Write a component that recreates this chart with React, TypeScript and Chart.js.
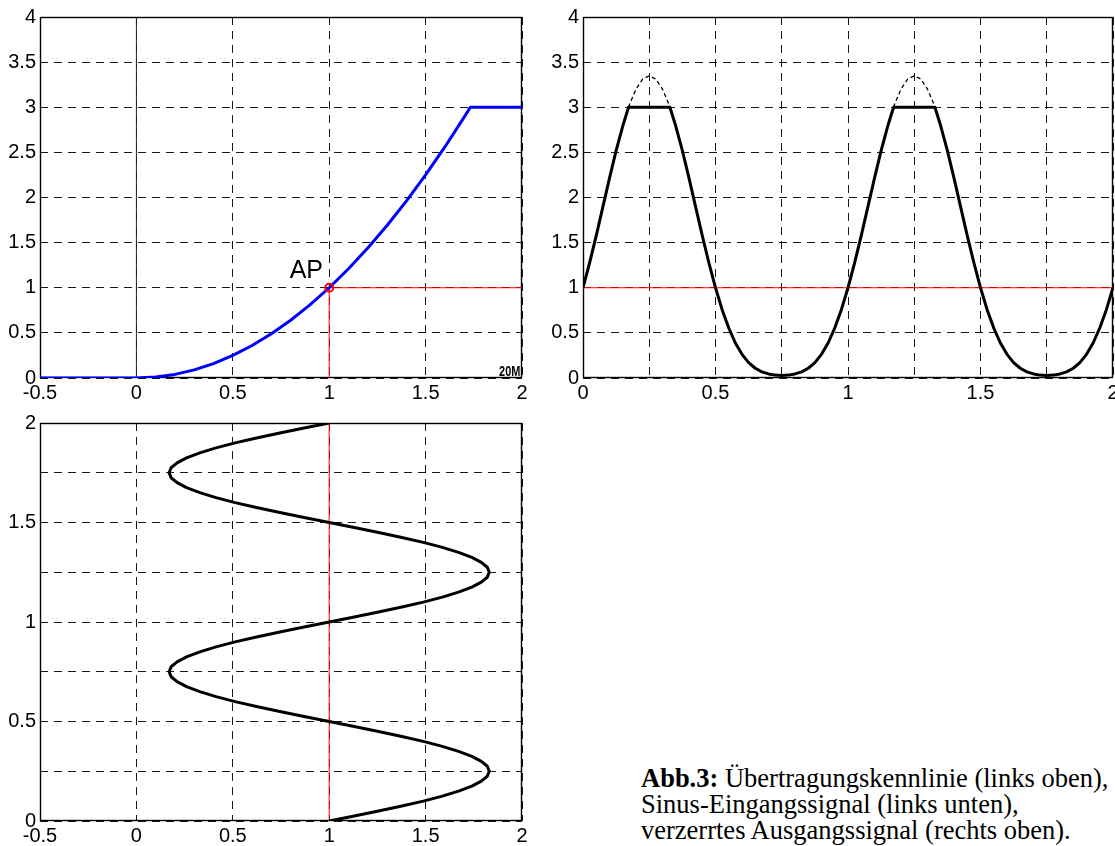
import React, { useEffect, useRef } from 'react';
import { Chart, registerables } from 'chart.js';

Chart.register(...registerables);

// ---------------- Data ----------------
// Top-left: Übertragungskennlinie (transfer characteristic)
const kennlinieX = [-0.5, 0, 0.1, 0.2, 0.3, 0.4, 0.5, 0.6, 0.7, 0.8, 0.9, 1.0, 1.1, 1.2, 1.3, 1.4, 1.5, 1.6, 1.7, 1.732, 2.0];
const kennlinieY = [0, 0, 0.01, 0.04, 0.09, 0.16, 0.25, 0.36, 0.49, 0.64, 0.81, 1.0, 1.21, 1.44, 1.69, 1.96, 2.25, 2.56, 2.89, 3.0, 3.0];
const apLinieX = [1, 1, 2];
const apLinieY = [0, 1, 1];
const apPunktX = [1];
const apPunktY = [1];
const nullLinieX = [0, 0];
const nullLinieY = [0, 4];
const apLabel = 'AP';
const apLabelX = 0.968;
const apLabelY = 1.105;
const markLabel = '20M';
const markLabelX = 1.881;
const markLabelY = 0.02;

// Bottom-left: Sinus-Eingangssignal (time runs upward)
const zeitT = [
  0, 0.025, 0.05, 0.075, 0.1, 0.125, 0.15, 0.175, 0.2, 0.225, 0.25, 0.275, 0.3, 0.325, 0.35, 0.375, 0.4, 0.425, 0.45, 0.475,
  0.5, 0.525, 0.55, 0.575, 0.6, 0.625, 0.65, 0.675, 0.7, 0.725, 0.75, 0.775, 0.8, 0.825, 0.85, 0.875, 0.9, 0.925, 0.95, 0.975,
  1, 1.025, 1.05, 1.075, 1.1, 1.125, 1.15, 1.175, 1.2, 1.225, 1.25, 1.275, 1.3, 1.325, 1.35, 1.375, 1.4, 1.425, 1.45, 1.475,
  1.5, 1.525, 1.55, 1.575, 1.6, 1.625, 1.65, 1.675, 1.7, 1.725, 1.75, 1.775, 1.8, 1.825, 1.85, 1.875, 1.9, 1.925, 1.95, 1.975, 2,
];
const eingangX = [
  1.0, 1.13, 1.256, 1.377, 1.488, 1.587, 1.671, 1.74, 1.789, 1.82, 1.83, 1.82, 1.789, 1.74, 1.671, 1.587, 1.488, 1.377, 1.256, 1.13,
  1.0, 0.87, 0.744, 0.623, 0.512, 0.413, 0.329, 0.26, 0.211, 0.18, 0.17, 0.18, 0.211, 0.26, 0.329, 0.413, 0.512, 0.623, 0.744, 0.87,
  1.0, 1.13, 1.256, 1.377, 1.488, 1.587, 1.671, 1.74, 1.789, 1.82, 1.83, 1.82, 1.789, 1.74, 1.671, 1.587, 1.488, 1.377, 1.256, 1.13,
  1.0, 0.87, 0.744, 0.623, 0.512, 0.413, 0.329, 0.26, 0.211, 0.18, 0.17, 0.18, 0.211, 0.26, 0.329, 0.413, 0.512, 0.623, 0.744, 0.87,
  1.0,
];
const eingangRotX = [1, 1];
const eingangRotY = [0, 2];

// Top-right: verzerrtes Ausgangssignal
const ausgangT = [
  0, 0.025, 0.05, 0.075, 0.1, 0.125, 0.15, 0.172, 0.328, 0.35, 0.375, 0.4, 0.425, 0.45, 0.475,
  0.5, 0.525, 0.55, 0.575, 0.6, 0.625, 0.65, 0.675, 0.7, 0.725, 0.75, 0.775, 0.8, 0.825, 0.85, 0.875, 0.9, 0.925, 0.95, 0.975,
  1, 1.025, 1.05, 1.075, 1.1, 1.125, 1.15, 1.172, 1.328, 1.35, 1.375, 1.4, 1.425, 1.45, 1.475,
  1.5, 1.525, 1.55, 1.575, 1.6, 1.625, 1.65, 1.675, 1.7, 1.725, 1.75, 1.775, 1.8, 1.825, 1.85, 1.875, 1.9, 1.925, 1.95, 1.975, 2,
];
const ausgangY = [
  1.0, 1.277, 1.578, 1.896, 2.214, 2.519, 2.792, 3.0, 3.0, 2.792, 2.519, 2.214, 1.896, 1.578, 1.277,
  1.0, 0.757, 0.554, 0.388, 0.262, 0.171, 0.108, 0.068, 0.045, 0.032, 0.029, 0.032, 0.045, 0.068, 0.108, 0.171, 0.262, 0.388, 0.554, 0.757,
  1.0, 1.277, 1.578, 1.896, 2.214, 2.519, 2.792, 3.0, 3.0, 2.792, 2.519, 2.214, 1.896, 1.578, 1.277,
  1.0, 0.757, 0.554, 0.388, 0.262, 0.171, 0.108, 0.068, 0.045, 0.032, 0.029, 0.032, 0.045, 0.068, 0.108, 0.171, 0.262, 0.388, 0.554, 0.757,
  1.0,
];
const spitzeT = [0.172, 0.175, 0.2, 0.225, 0.25, 0.275, 0.3, 0.325, 0.328, 0.75, 1.172, 1.175, 1.2, 1.225, 1.25, 1.275, 1.3, 1.325, 1.328];
const spitzeY = [3.0, 3.028, 3.2, 3.312, 3.349, 3.312, 3.2, 3.028, 3.0, null, 3.0, 3.028, 3.2, 3.312, 3.349, 3.312, 3.2, 3.028, 3.0];
const ausgangRotX = [0, 2];
const ausgangRotY = [1, 1];

// Ticks / grid values
const kennXTicks = [-0.5, 0, 0.5, 1, 1.5, 2];
const kennYTicks = [0, 0.5, 1, 1.5, 2, 2.5, 3, 3.5, 4];
const ausgangXGrid = [0, 0.25, 0.5, 0.75, 1, 1.25, 1.5, 1.75, 2];
const ausgangXLabels = [0, 0.5, 1, 1.5, 2];
const ausgangYTicks = [0, 0.5, 1, 1.5, 2, 2.5, 3, 3.5, 4];
const eingangXTicks = [-0.5, 0, 0.5, 1, 1.5, 2];
const eingangYGrid = [0, 0.25, 0.5, 0.75, 1, 1.25, 1.5, 1.75, 2];
const eingangYLabels = [0, 0.5, 1, 1.5, 2];

const captionBold = 'Abb.3:';
const captionLines = [
  ' Übertragungskennlinie (links oben),',
  'Sinus-Eingangssignal (links unten),',
  'verzerrtes Ausgangssignal (rechts oben).',
];

// ---------------- Helpers ----------------
const FONT = '"Liberation Sans", Arial, Helvetica, sans-serif';

function pts(xs: number[], ys: (number | null)[]) {
  return xs.map((x, i) => ({ x, y: ys[i] }));
}

function axis(min: number, max: number, gridValues: number[], labelValues: number[], size: number, isX: boolean) {
  return {
    type: 'linear',
    min,
    max,
    afterBuildTicks: (s: any) => {
      s.ticks = gridValues.map((v) => ({ value: v }));
    },
    afterFit: (s: any) => {
      if (isX) s.height = size;
      else s.width = size;
      s.paddingLeft = 0;
      s.paddingRight = 0;
      s.paddingTop = 0;
      s.paddingBottom = 0;
    },
    grid: { color: 'rgba(0,0,0,0.9)', lineWidth: 1, drawTicks: false },
    border: { display: false, dash: [8, 6] },
    ticks: {
      padding: isX ? 3 : 4,
      color: '#000',
      autoSkip: false,
      maxRotation: 0,
      minRotation: 0,
      font: { family: FONT, size: 20 },
      callback: (v: number) => (labelValues.includes(v) ? String(v) : ''),
    },
  };
}

const framePlugin = {
  id: 'frame',
  beforeDatasetsDraw(chart: any) {
    const { ctx, chartArea: a } = chart;
    ctx.save();
    ctx.setLineDash([]);
    ctx.strokeStyle = '#000';
    ctx.lineWidth = 1.4;
    ctx.strokeRect(a.left + 0.5, a.top + 0.5, a.right - a.left - 1, a.bottom - a.top - 1);
    ctx.restore();
  },
};

const labelPlugin = {
  id: 'labels',
  afterDatasetsDraw(chart: any) {
    const { ctx, scales } = chart;
    const x = scales.x;
    const y = scales.y;
    ctx.save();
    ctx.fillStyle = '#000';
    ctx.font = `25px ${FONT}`;
    ctx.textAlign = 'right';
    ctx.textBaseline = 'alphabetic';
    ctx.fillText(apLabel, x.getPixelForValue(apLabelX), y.getPixelForValue(apLabelY));
    ctx.translate(x.getPixelForValue(markLabelX), y.getPixelForValue(markLabelY));
    ctx.scale(0.78, 1);
    ctx.font = `bold 14px ${FONT}`;
    ctx.textAlign = 'left';
    ctx.fillText(markLabel, 0, 0);
    ctx.restore();
  },
};

function baseOptions(xAxis: any, yAxis: any, padding: any) {
  return {
    responsive: false,
    maintainAspectRatio: false,
    animation: false,
    devicePixelRatio: 1,
    events: [],
    layout: { padding },
    plugins: { legend: { display: false }, tooltip: { enabled: false } },
    scales: { x: xAxis, y: yAxis },
  };
}

function line(data: any[], color: string, width: number, extra: any = {}) {
  return {
    data,
    showLine: true,
    borderColor: color,
    borderWidth: width,
    pointRadius: 0,
    fill: false,
    tension: 0,
    spanGaps: false,
    borderJoinStyle: 'round',
    ...extra,
  };
}

function ChartCanvas({ config, left, top, width, height }: any) {
  const ref = useRef<HTMLCanvasElement>(null);
  useEffect(() => {
    if (!ref.current) return;
    const chart = new Chart(ref.current, config);
    return () => chart.destroy();
  }, []);
  return (
    <canvas
      ref={ref}
      width={width}
      height={height}
      style={{ position: 'absolute', left, top, width, height }}
    />
  );
}

export default function App() {
  const kennConfig: any = {
    type: 'scatter',
    data: {
      datasets: [
        {
          data: pts(apPunktX, apPunktY),
          showLine: false,
          pointRadius: 4,
          pointBorderWidth: 2,
          pointBorderColor: '#ff0000',
          pointBackgroundColor: 'rgba(0,0,0,0)',
        },
        line(pts(kennlinieX, kennlinieY), '#0000ff', 3),
        line(pts(apLinieX, apLinieY), '#ff0000', 1),
        line(pts(nullLinieX, nullLinieY), '#222222', 1),
      ],
    },
    options: baseOptions(
      axis(-0.5, 2, kennXTicks, kennXTicks, 27, true),
      axis(0, 4, kennYTicks, kennYTicks, 40, false),
      { left: 0, top: 17, right: 23, bottom: 0 }
    ),
    plugins: [framePlugin, labelPlugin],
  };

  const ausgangConfig: any = {
    type: 'scatter',
    data: {
      datasets: [
        line(pts(ausgangT, ausgangY), '#000000', 3),
        line(pts(spitzeT, spitzeY), '#000000', 1.3, { borderDash: [4, 3] }),
        line(pts(ausgangRotX, ausgangRotY), '#ff0000', 1),
      ],
    },
    options: baseOptions(
      axis(0, 2, ausgangXGrid, ausgangXLabels, 27, true),
      axis(0, 4, ausgangYTicks, ausgangYTicks, 38, false),
      { left: 0, top: 17, right: 2, bottom: 0 }
    ),
    plugins: [framePlugin],
  };

  const eingangConfig: any = {
    type: 'scatter',
    data: {
      datasets: [
        line(pts(eingangX, zeitT), '#000000', 3),
        line(pts(eingangRotX, eingangRotY), '#ff0000', 1),
      ],
    },
    options: baseOptions(
      axis(-0.5, 2, eingangXTicks, eingangXTicks, 25, true),
      axis(0, 2, eingangYGrid, eingangYLabels, 40, false),
      { left: 0, top: 18, right: 23, bottom: 0 }
    ),
    plugins: [framePlugin],
  };

  return (
    <div
      style={{
        position: 'absolute',
        left: 0,
        top: 0,
        width: 1115,
        height: 846,
        overflow: 'hidden',
        background: '#fff',
      }}
    >
      <ChartCanvas config={kennConfig} left={0} top={0} width={545} height={405} />
      <ChartCanvas config={ausgangConfig} left={545} top={0} width={570} height={405} />
      <ChartCanvas config={eingangConfig} left={0} top={405} width={545} height={441} />
      <div
        style={{
          position: 'absolute',
          left: 641,
          top: 765,
          fontFamily: '"Liberation Serif", "Times New Roman", serif',
          fontSize: 26.5,
          lineHeight: '26px',
          color: '#000',
          whiteSpace: 'nowrap',
        }}
      >
        <b>{captionBold}</b>
        {captionLines[0]}
        <br />
        {captionLines[1]}
        <br />
        {captionLines[2]}
      </div>
    </div>
  );
}
